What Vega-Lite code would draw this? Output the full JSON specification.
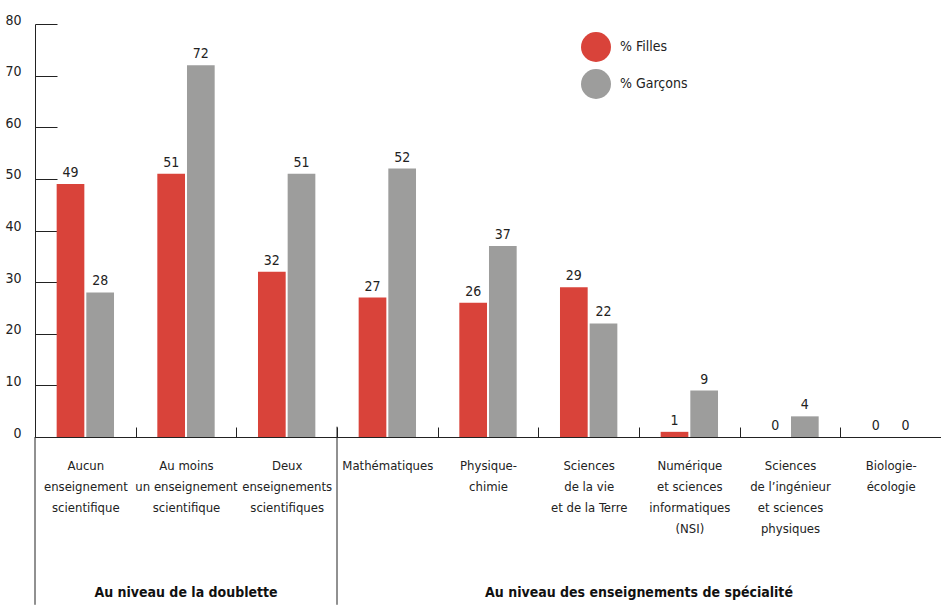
{
  "$schema": "https://vega.github.io/schema/vega-lite/v6.json",
  "autosize": {"type": "none"},
  "padding": {"left": 35, "top": 24, "right": 0, "bottom": 168},
  "width": 906,
  "height": 413,
  "config": {
    "view": {"stroke": null},
    "font": "DejaVu Sans Condensed, Liberation Sans Narrow, Roboto",
    "text": {"font": "DejaVu Sans Condensed, Liberation Sans Narrow, Roboto"}
  },
  "datasets": {
    "bars": [
      {"cat": "Aucun|enseignement|scientifique", "sexe": "% Filles", "val": 49},
      {"cat": "Aucun|enseignement|scientifique", "sexe": "% Garçons", "val": 28},
      {"cat": "Au moins|un enseignement|scientifique", "sexe": "% Filles", "val": 51},
      {"cat": "Au moins|un enseignement|scientifique", "sexe": "% Garçons", "val": 72},
      {"cat": "Deux|enseignements|scientifiques", "sexe": "% Filles", "val": 32},
      {"cat": "Deux|enseignements|scientifiques", "sexe": "% Garçons", "val": 51},
      {"cat": "Mathématiques", "sexe": "% Filles", "val": 27},
      {"cat": "Mathématiques", "sexe": "% Garçons", "val": 52},
      {"cat": "Physique-|chimie", "sexe": "% Filles", "val": 26},
      {"cat": "Physique-|chimie", "sexe": "% Garçons", "val": 37},
      {"cat": "Sciences|de la vie|et de la Terre", "sexe": "% Filles", "val": 29},
      {"cat": "Sciences|de la vie|et de la Terre", "sexe": "% Garçons", "val": 22},
      {"cat": "Numérique|et sciences|informatiques|(NSI)", "sexe": "% Filles", "val": 1},
      {"cat": "Numérique|et sciences|informatiques|(NSI)", "sexe": "% Garçons", "val": 9},
      {"cat": "Sciences|de l’ingénieur|et sciences|physiques", "sexe": "% Filles", "val": 0},
      {"cat": "Sciences|de l’ingénieur|et sciences|physiques", "sexe": "% Garçons", "val": 4},
      {"cat": "Biologie-|écologie", "sexe": "% Filles", "val": 0},
      {"cat": "Biologie-|écologie", "sexe": "% Garçons", "val": 0}
    ],
    "seps": [
      {"cat": "Aucun|enseignement|scientifique", "y1": 0, "y2": -32.5},
      {"cat": "Mathématiques", "y1": 2, "y2": -32.5}
    ]
  },
  "layer": [
    {
      "data": {"name": "bars"},
      "mark": {"type": "bar"},
      "encoding": {
        "x": {
          "field": "cat", "type": "nominal", "sort": null,
          "scale": {"paddingInner": 0, "paddingOuter": 0},
          "axis": {
            "title": null, "labelAngle": 0, "tickBand": "extent", "tickSize": -10,
            "tickColor": "#222", "domainColor": "#222",
            "labelExpr": "split(datum.label, '|')",
            "labelBaseline": "top", "labelFontSize": 13, "labelLineHeight": 21,
            "labelColor": "#222", "labelPadding": 32, "labelOverlap": false, "labelBound": false, "labelLimit": 200
          }
        },
        "xOffset": {"field": "sexe", "type": "nominal", "scale": {"paddingInner": 0.0667, "paddingOuter": 0.73}},
        "y": {
          "field": "val", "type": "quantitative",
          "scale": {"domain": [0, 80], "nice": false},
          "axis": {
            "title": null, "grid": false, "values": [0, 10, 20, 30, 40, 50, 60, 70, 80],
            "tickSize": -22, "tickColor": "#222", "domainColor": "#222",
            "labelFontSize": 14, "labelColor": "#222", "labelPadding": 36, "labelOffset": -4
          }
        },
        "color": {
          "field": "sexe", "type": "nominal",
          "scale": {"domain": ["% Filles", "% Garçons"], "range": ["#d9433a", "#9d9d9c"]},
          "legend": {
            "title": null, "orient": "none", "legendX": 546, "legendY": 8,
            "symbolType": "circle", "symbolSize": 900, "symbolStrokeWidth": 0,
            "labelFontSize": 14, "labelColor": "#222", "labelOffset": 9, "rowPadding": 7
          }
        }
      }
    },
    {
      "data": {"name": "bars"},
      "mark": {"type": "text", "baseline": "bottom", "dy": -4, "fontSize": 14, "color": "#222"},
      "encoding": {
        "x": {"field": "cat", "type": "nominal", "sort": null},
        "xOffset": {"field": "sexe", "type": "nominal"},
        "y": {"field": "val", "type": "quantitative"},
        "text": {"field": "val", "type": "quantitative"}
      }
    },
    {
      "data": {"name": "seps"},
      "mark": {"type": "rule", "color": "#222", "strokeWidth": 1},
      "encoding": {
        "x": {"field": "cat", "type": "nominal", "sort": null, "bandPosition": 0},
        "y": {"field": "y1", "type": "quantitative"},
        "y2": {"field": "y2"}
      }
    },
    {
      "data": {"values": [{"cat": "Au moins|un enseignement|scientifique", "lab": "Au niveau de la doublette", "yy": -30.3}]},
      "mark": {"type": "text", "fontWeight": "bold", "fontSize": 14, "color": "#111", "baseline": "middle"},
      "encoding": {
        "x": {"field": "cat", "type": "nominal", "sort": null},
        "y": {"field": "yy", "type": "quantitative"},
        "text": {"field": "lab"}
      }
    },
    {
      "data": {"values": [{"cat": "Numérique|et sciences|informatiques|(NSI)", "lab": "Au niveau des enseignements de spécialité", "yy": -30.3}]},
      "mark": {"type": "text", "fontWeight": "bold", "fontSize": 14, "color": "#111", "baseline": "middle"},
      "encoding": {
        "x": {"field": "cat", "type": "nominal", "sort": null, "bandPosition": 0},
        "y": {"field": "yy", "type": "quantitative"},
        "text": {"field": "lab"}
      }
    }
  ]
}
